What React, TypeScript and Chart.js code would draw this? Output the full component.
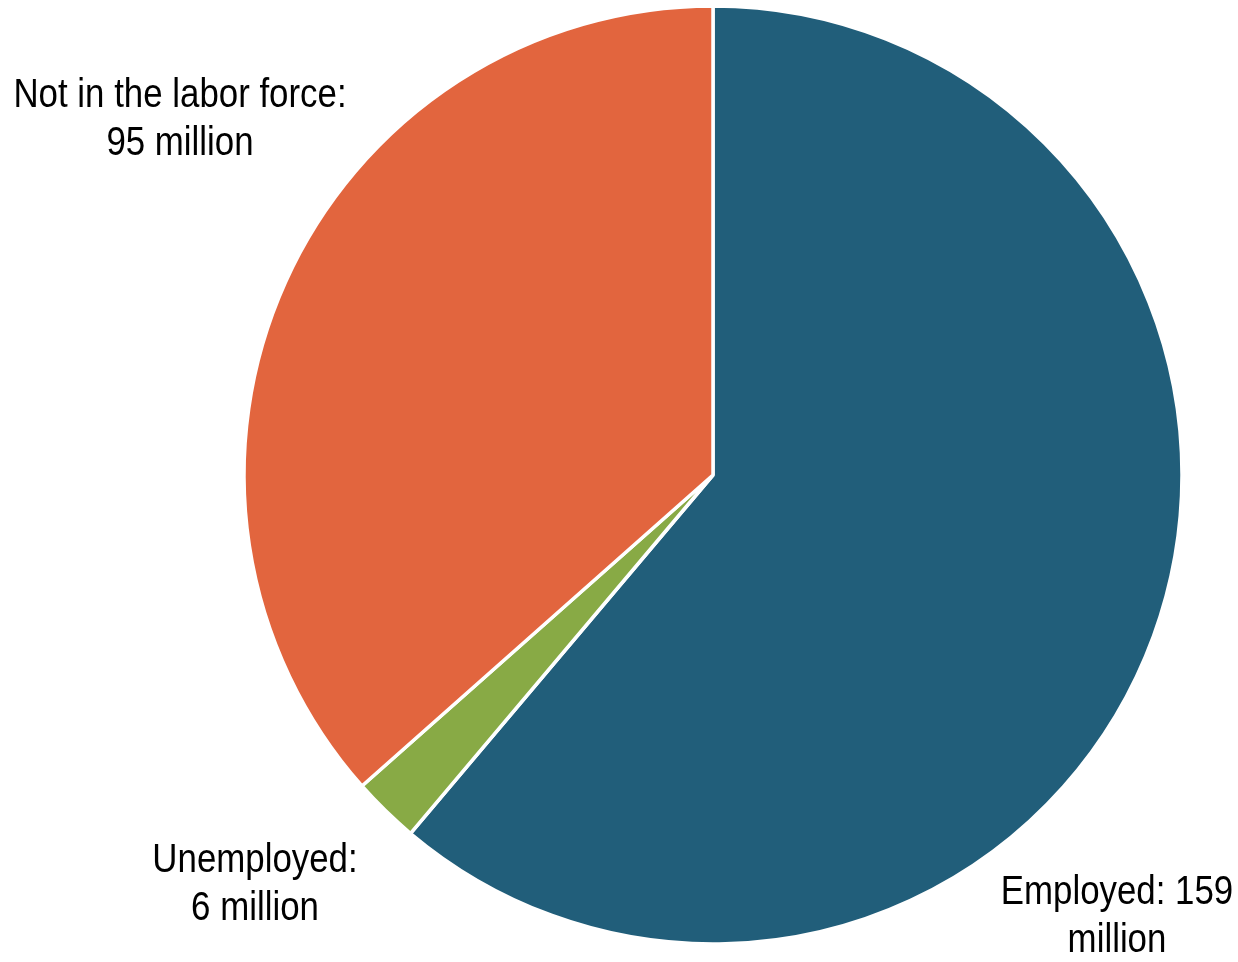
import React, { useEffect, useRef } from "react";
import { Chart, registerables } from "chart.js";

Chart.register(...registerables);

const categories = ["Employed", "Unemployed", "Not in the labor force"];
const valuesMillions = [159, 6, 95];
const sliceColors = ["#215E7A", "#88AA45", "#E2653E"];
const labelLines = [
  ["Employed: 159", "million"],
  ["Unemployed:", "6 million"],
  ["Not in the labor force:", "95 million"],
];

const FONT = '41px "Liberation Sans", Arial, sans-serif';
const CONDENSE = 0.85;

const labelPlugin = {
  id: "sliceLabels",
  afterDraw(chart: any) {
    const ctx = chart.ctx;
    const area = chart.chartArea;
    const cx = (area.left + area.right) / 2;
    const cy = (area.top + area.bottom) / 2;
    // text anchors relative to pie centre
    const anchors = [
      { dx: 404, dy: 429 },
      { dx: -458, dy: 397 },
      { dx: -533, dy: -368 },
    ];
    ctx.save();
    ctx.font = FONT;
    ctx.fillStyle = "#000000";
    ctx.textAlign = "center";
    ctx.textBaseline = "alphabetic";
    labelLines.forEach((lines, i) => {
      const a = anchors[i];
      lines.forEach((t, j) => {
        const x = cx + a.dx;
        const y = cy + a.dy + j * 48;
        ctx.save();
        ctx.translate(x, y);
        ctx.scale(CONDENSE, 1);
        ctx.fillText(t, 0, 0);
        ctx.restore();
      });
    });
    ctx.restore();
  },
};

export default function App() {
  const ref = useRef<HTMLCanvasElement | null>(null);
  useEffect(() => {
    if (!ref.current) return;
    const chart = new Chart(ref.current, {
      type: "pie",
      data: {
        labels: categories,
        datasets: [
          {
            data: valuesMillions,
            backgroundColor: sliceColors,
            borderColor: "#ffffff",
            borderWidth: 3.5,
            hoverOffset: 0,
          },
        ],
      },
      options: {
        animation: false,
        responsive: false,
        maintainAspectRatio: false,
        radius: 469,
        layout: { padding: { left: 188, right: 0, top: 0, bottom: 12 } },
        plugins: {
          legend: { display: false },
          tooltip: { enabled: false },
        },
      },
      plugins: [labelPlugin],
    });
    return () => chart.destroy();
  }, []);
  return (
    <div style={{ position: "fixed", left: 0, top: 0, width: 1238, height: 962, background: "#fff" }}>
      <canvas ref={ref} width={1238} height={962} style={{ width: 1238, height: 962 }} />
    </div>
  );
}
